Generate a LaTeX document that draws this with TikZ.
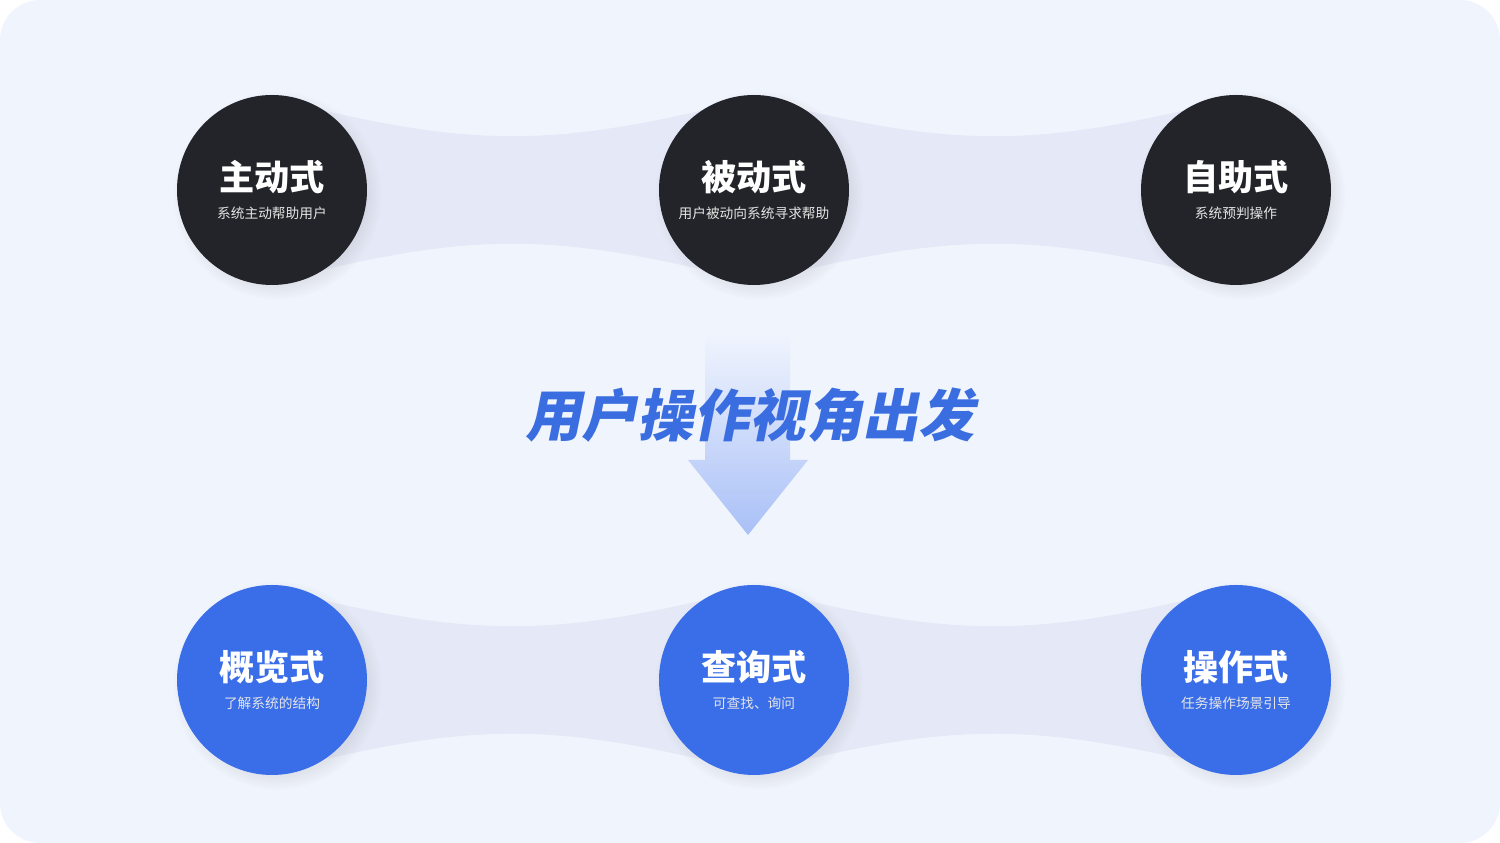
\documentclass[tikz,border=0pt]{standalone}
\usepackage{fontspec}
\newfontfamily\cjk{Noto Sans CJK SC}
\newfontfamily\cjkit[FakeSlant=0.2]{Noto Sans CJK SC}
\usepackage{tikz}
\usetikzlibrary{calc,positioning,shadows}
\definecolor{bgc}{HTML}{F0F4FD}
\definecolor{bandc}{HTML}{E5E9F7}
\definecolor{darkc}{HTML}{222429}
\definecolor{bluec}{HTML}{3A6EE9}
\definecolor{titlec}{HTML}{3A6EE0}
\definecolor{arrc}{HTML}{A9C0F7}
\tikzset{
    dark/.style={
    circle,fill=darkc,minimum size=1.9cm,inner sep=0pt
    },
    blue/.style={
    circle,fill=bluec,minimum size=1.9cm,inner sep=0pt
    },
    mainlbl/.style={
    font=\cjk\bfseries\fontsize{10}{10}\selectfont,text=white
    },
    sublbl/.style={
    font=\cjk\fontsize{3.9}{4}\selectfont,text=white!80!gray
    },
    band/.style={
    fill=bandc
    },
}
\begin{document}
\begin{tikzpicture}
   \fill[bgc,rounded corners=0.4cm] (0,0) rectangle (15,8.43);
   \useasboundingbox (0,0) rectangle (15,8.43);
   % bands
   \foreach \y in {6.53,1.63}{
     \foreach \x in {2.72,7.54}{
       \fill[band] (\x+0.5,\y+0.8) .. controls (\x+2.0,\y+0.45) and (\x+2.8,\y+0.45) .. (\x+4.32,\y+0.8)
         -- (\x+4.32,\y-0.8) .. controls (\x+2.8,\y-0.45) and (\x+2.0,\y-0.45) .. (\x+0.5,\y-0.8) -- cycle;
     }
   }
   % arrow
   \shade[top color=bgc,bottom color=arrc]
     (7.05,5.1) -- (7.9,5.1) -- (7.9,3.83) -- (8.08,3.83) -- (7.48,3.08) -- (6.88,3.83) -- (7.05,3.83) -- cycle;
   \node[font=\cjkit\bfseries\fontsize{16}{16}\selectfont,text=titlec] (title) at (7.5,4.28) {用户操作视角出发};

   \node[dark,circular drop shadow={shadow scale=1.1,opacity=0.15}] (c1) at (2.72,6.53) {};
   \node[dark,circular drop shadow={shadow scale=1.1,opacity=0.15}] (c2) at (7.54,6.53) {};
   \node[dark,circular drop shadow={shadow scale=1.1,opacity=0.15}] (c3) at (12.36,6.53) {};
   \node[blue,circular drop shadow={shadow scale=1.1,opacity=0.15}] (c4) at (2.72,1.63) {};
   \node[blue,circular drop shadow={shadow scale=1.1,opacity=0.15}] (c5) at (7.54,1.63) {};
   \node[blue,circular drop shadow={shadow scale=1.1,opacity=0.15}] (c6) at (12.36,1.63) {};

   \node[mainlbl] (t1) at ($(c1)+(0,0.13)$) {主动式};
   \node[sublbl] (s1) at ($(c1)+(0,-0.23)$) {系统主动帮助用户};
   \node[mainlbl] (t2) at ($(c2)+(0,0.13)$) {被动式};
   \node[sublbl] (s2) at ($(c2)+(0,-0.23)$) {用户被动向系统寻求帮助};
   \node[mainlbl] (t3) at ($(c3)+(0,0.13)$) {自助式};
   \node[sublbl] (s3) at ($(c3)+(0,-0.23)$) {系统预判操作};
   \node[mainlbl] (t4) at ($(c4)+(0,0.13)$) {概览式};
   \node[sublbl] (s4) at ($(c4)+(0,-0.23)$) {了解系统的结构};
   \node[mainlbl] (t5) at ($(c5)+(0,0.13)$) {查询式};
   \node[sublbl] (s5) at ($(c5)+(0,-0.23)$) {可查找、询问};
   \node[mainlbl] (t6) at ($(c6)+(0,0.13)$) {操作式};
   \node[sublbl] (s6) at ($(c6)+(0,-0.23)$) {任务操作场景引导};
\end{tikzpicture}
\end{document}
